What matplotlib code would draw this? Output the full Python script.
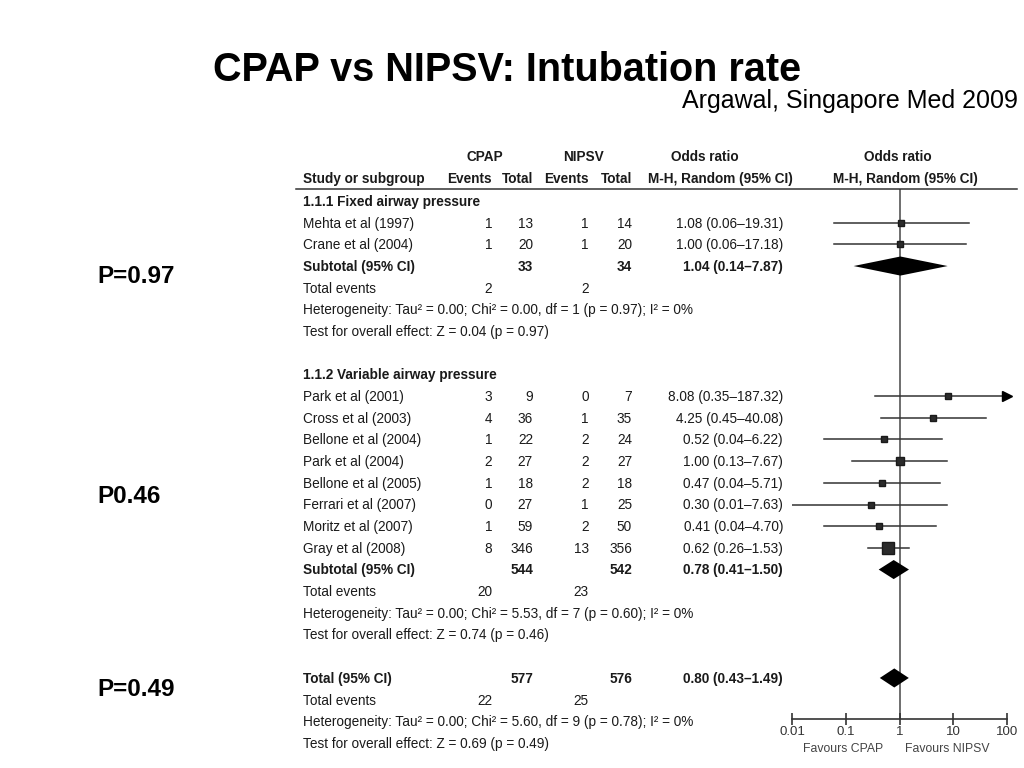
import matplotlib
matplotlib.use("Agg")
import matplotlib.pyplot as plt
import matplotlib.transforms as mtransforms
from matplotlib.ticker import NullLocator

plt.rcParams['font.family'] = ['Liberation Sans', 'DejaVu Sans']

# ---- data ----
title = "CPAP vs NIPSV: Intubation rate"
source = "Argawal, Singapore Med 2009"

group_names = ["1.1.1 Fixed airway pressure", "1.1.2 Variable airway pressure"]
p_labels = ["P=0.97", "P0.46", "P=0.49"]

studies = ["Mehta et al (1997)", "Crane et al (2004)",
           "Park et al (2001)", "Cross et al (2003)", "Bellone et al (2004)",
           "Park et al (2004)", "Bellone et al (2005)", "Ferrari et al (2007)",
           "Moritz et al (2007)", "Gray et al (2008)"]
study_group = [0, 0, 1, 1, 1, 1, 1, 1, 1, 1]
cpap_events = [1, 1, 3, 4, 1, 2, 1, 0, 1, 8]
cpap_total = [13, 20, 9, 36, 22, 27, 18, 27, 59, 346]
nipsv_events = [1, 1, 0, 1, 2, 2, 2, 1, 2, 13]
nipsv_total = [14, 20, 7, 35, 24, 27, 18, 25, 50, 356]
odds = [1.08, 1.00, 8.08, 4.25, 0.52, 1.00, 0.47, 0.30, 0.41, 0.62]
ci_low = [0.06, 0.06, 0.35, 0.45, 0.04, 0.13, 0.04, 0.01, 0.04, 0.26]
ci_high = [19.31, 17.18, 187.32, 40.08, 6.22, 7.67, 5.71, 7.63, 4.70, 1.53]
weight_pct = [4.1, 4.6, 3.6, 7.9, 6.0, 8.8, 5.8, 3.4, 5.9, 49.9]  # estimated

sub_odds = [1.04, 0.78]
sub_low = [0.14, 0.41]
sub_high = [7.87, 1.50]
sub_chi2 = [0.00, 5.53]
sub_df = [1, 7]
sub_phet = [0.97, 0.60]
sub_z = [0.04, 0.74]
sub_p = [0.97, 0.46]

tot_odds, tot_low, tot_high = 0.80, 0.43, 1.49
tot_chi2, tot_df, tot_phet = 5.60, 9, 0.78
tot_z, tot_p = 0.69, 0.49

# ---- layout ----
W, H = 1024, 768
ROW0, STEP = 201, 21.68
TXT = '#1a1a1a'
FS = 9.8
BASE = 0.225  # baseline sits this many rows below the row centre
X_LABEL, X_CE, X_CT, X_NE, X_NT, X_OR = 303, 492, 533, 589, 632, 783

fig = plt.figure(figsize=(W / 100, H / 100), dpi=100)
fig.patch.set_facecolor('white')

ax = fig.add_axes([792 / W, 1 - 719 / H, 215 / W, (719 - 189) / H])
ax.set_xscale('log')
ax.set_xlim(0.01, 100)
ax.set_ylim((719 - ROW0) / STEP, (189 - ROW0) / STEP)
ax.patch.set_alpha(0)

tr = mtransforms.blended_transform_factory(fig.transFigure, ax.transData)


def put(xpx, row, s, ha='left', bold=False):
    ax.text(xpx / W, row + BASE, s, transform=tr, ha=ha, va='baseline',
            fontsize=FS, color=TXT, fontweight='bold' if bold else 'normal',
            clip_on=False)


def fmt_or(e, lo, hi):
    return f"{e:.2f} ({lo:.2f}\u2013{hi:.2f})"


def het(chi2, df, p):
    return (f"Heterogeneity: Tau\u00b2 = 0.00; Chi\u00b2 = {chi2:.2f}, df = {df} "
            f"(p = {p:.2f}); I\u00b2 = 0%")


def overall(z, p):
    return f"Test for overall effect: Z = {z:.2f} (p = {p:.2f})"


def diamond(row, e, lo, hi):
    h = 0.44
    ax.fill([lo, e, hi, e], [row, row - h, row, row + h], color='black',
            lw=0, zorder=3)


# headers
hr1, hr2 = (156 - ROW0) / STEP, (178 - ROW0) / STEP
put(485, hr1, "CPAP", ha='center', bold=True)
put(583, hr1, "NIPSV", ha='center', bold=True)
put(705, hr1, "Odds ratio", ha='center', bold=True)
put(898, hr1, "Odds ratio", ha='center', bold=True)
put(X_LABEL, hr2, "Study or subgroup", bold=True)
put(X_CE, hr2, "Events", ha='right', bold=True)
put(X_CT, hr2, "Total", ha='right', bold=True)
put(X_NE, hr2, "Events", ha='right', bold=True)
put(X_NT, hr2, "Total", ha='right', bold=True)
put(793, hr2, "M-H, Random (95% CI)", ha='right', bold=True)
put(905, hr2, "M-H, Random (95% CI)", ha='center', bold=True)
top = (189 - ROW0) / STEP
ax.plot([296 / W, 1017 / W], [top, top], transform=tr, color='#333333',
        lw=1.1, clip_on=False)

# forest reference line
ax.axvline(1, color='#6e6e6e', lw=1.4, zorder=1)

row = 0
for g, gname in enumerate(group_names):
    put(X_LABEL, row, gname, bold=True)
    row += 1
    idx = [i for i, sg in enumerate(study_group) if sg == g]
    for i in idx:
        put(X_LABEL, row, studies[i])
        put(X_CE, row, str(cpap_events[i]), ha='right')
        put(X_CT, row, str(cpap_total[i]), ha='right')
        put(X_NE, row, str(nipsv_events[i]), ha='right')
        put(X_NT, row, str(nipsv_total[i]), ha='right')
        put(X_OR, row, fmt_or(odds[i], ci_low[i], ci_high[i]), ha='right')
        hi = min(ci_high[i], 100)
        lo = max(ci_low[i], 0.01)
        ax.plot([lo, hi], [row, row], color='#333333', lw=1.1, zorder=2)
        if ci_high[i] > 100:
            ax.plot(100, row, marker='>', ms=7, color='black', clip_on=False)
        side = 3 + 1.4 * weight_pct[i] ** 0.5
        ax.plot(odds[i], row, marker='s', ms=side * 0.72, color='#2b2b2b',
                mec='#1a1a1a', zorder=3)
        row += 1
    put(X_LABEL, row, "Subtotal (95% CI)", bold=True)
    put(X_CT, row, str(sum(cpap_total[i] for i in idx)), ha='right', bold=True)
    put(X_NT, row, str(sum(nipsv_total[i] for i in idx)), ha='right', bold=True)
    put(X_OR, row, fmt_or(sub_odds[g], sub_low[g], sub_high[g]), ha='right', bold=True)
    diamond(row, sub_odds[g], sub_low[g], sub_high[g])
    row += 1
    put(X_LABEL, row, "Total events")
    put(X_CE, row, str(sum(cpap_events[i] for i in idx)), ha='right')
    put(X_NE, row, str(sum(nipsv_events[i] for i in idx)), ha='right')
    row += 1
    put(X_LABEL, row, het(sub_chi2[g], sub_df[g], sub_phet[g]))
    row += 1
    put(X_LABEL, row, overall(sub_z[g], sub_p[g]))
    row += 2

put(X_LABEL, row, "Total (95% CI)", bold=True)
put(X_CT, row, str(sum(cpap_total)), ha='right', bold=True)
put(X_NT, row, str(sum(nipsv_total)), ha='right', bold=True)
put(X_OR, row, fmt_or(tot_odds, tot_low, tot_high), ha='right', bold=True)
diamond(row, tot_odds, tot_low, tot_high)
row += 1
put(X_LABEL, row, "Total events")
put(X_CE, row, str(sum(cpap_events)), ha='right')
put(X_NE, row, str(sum(nipsv_events)), ha='right')
row += 1
put(X_LABEL, row, het(tot_chi2, tot_df, tot_phet))
row += 1
put(X_LABEL, row, overall(tot_z, tot_p))

# axis styling
for s in ['top', 'left', 'right']:
    ax.spines[s].set_visible(False)
ax.spines['bottom'].set_color('#333333')
ax.spines['bottom'].set_linewidth(1.2)
ax.set_yticks([])
ax.set_xticks([0.01, 0.1, 1, 10, 100], labels=['0.01', '0.1', '1', '10', '100'])
ax.xaxis.set_minor_locator(NullLocator())
ax.tick_params(axis='x', direction='inout', length=8, width=1.2, color='#333333',
               labelsize=9.5, labelcolor='#333333', pad=1)

fig.text(843 / W, 1 - 752 / H, "Favours CPAP", ha='center', va='baseline',
         fontsize=8.8, color='#444444')
fig.text(947 / W, 1 - 752 / H, "Favours NIPSV", ha='center', va='baseline',
         fontsize=8.8, color='#444444')

# titles and p-values
fig.text(507 / W, 1 - 81 / H, title, ha='center', va='baseline',
         fontsize=28.5, fontweight='bold', color='black')
fig.text(1018 / W, 1 - 108 / H, source, ha='right', va='baseline',
         fontsize=18, color='black')
for ybase, lab in zip([283, 503, 696], p_labels):
    fig.text(97 / W, 1 - ybase / H, lab, ha='left', va='baseline',
             fontsize=17.5, fontweight='bold', color='black')

fig.savefig("out.png", dpi=100)
